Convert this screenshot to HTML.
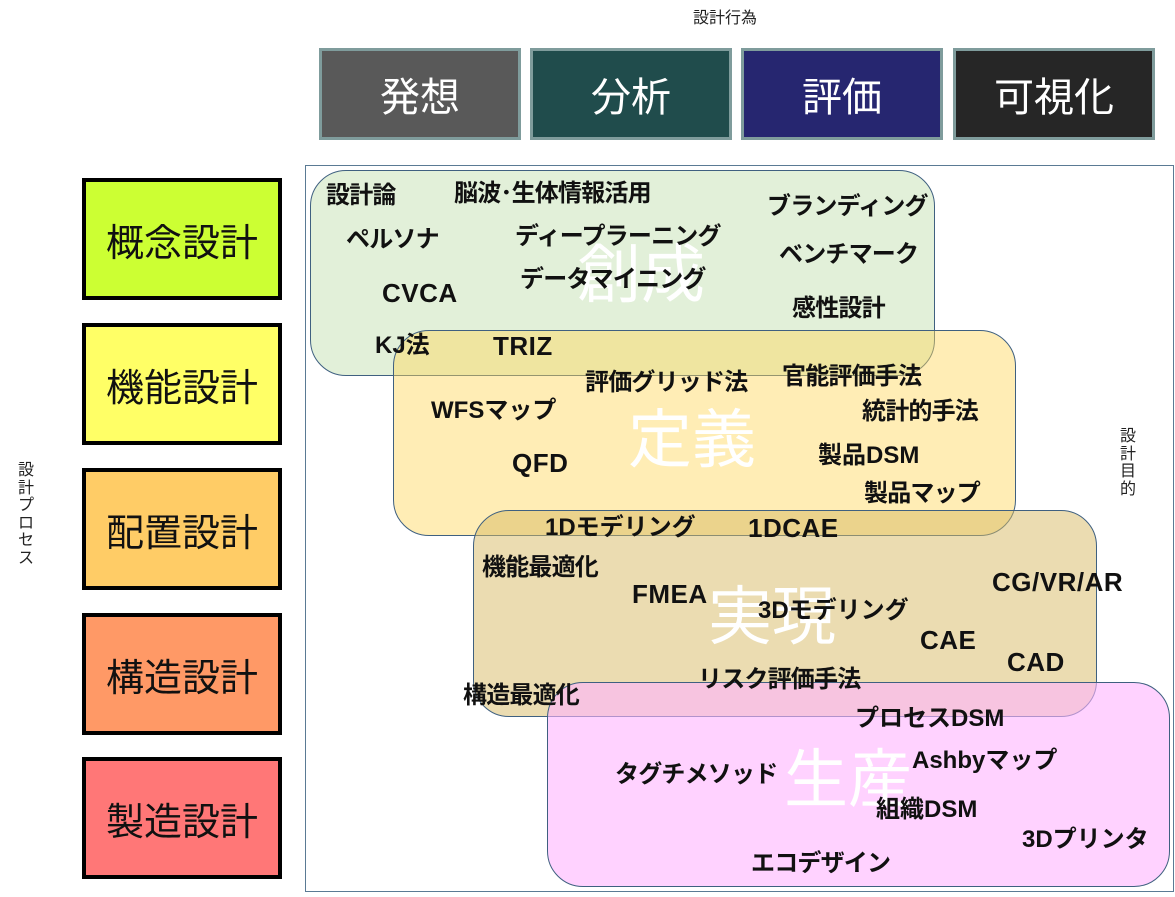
<!DOCTYPE html>
<html><head><meta charset="utf-8"><style>
body{margin:0;width:1175px;height:897px;background:#fff;position:relative;overflow:hidden;font-family:"Liberation Sans","Noto Sans CJK JP",sans-serif}
div{position:absolute;box-sizing:border-box}
.h{top:48px;height:92px;width:202px;border:3px solid #7f9c9c;color:#fff;font-size:40px;display:flex;align-items:center;justify-content:center}
.l{left:82px;width:200px;height:122px;border:4px solid #000;font-size:38px;display:flex;align-items:center;justify-content:center;color:#111}
.b{border:1.5px solid #3f6080;border-radius:36px}
.w{color:#fff;font-size:64px;white-space:nowrap;line-height:1}
.t{font-weight:bold;font-size:24px;white-space:nowrap;line-height:1;color:#111;letter-spacing:-0.8px}
.e{font-size:26px;letter-spacing:0.5px}
.m{font-size:24px;letter-spacing:0}
.s{font-size:16px;line-height:1.1;color:#222}
</style></head><body>
<div class="s" style="left:693px;top:10px">設計行為</div>
<div class="h" style="left:319px;background:#595959">発想</div>
<div class="h" style="left:530px;background:#204c4c">分析</div>
<div class="h" style="left:741px;background:#262670">評価</div>
<div class="h" style="left:953px;background:#262626">可視化</div>
<div class="s" style="left:16px;top:462px;width:20px;text-align:center">設<br>計<br>プ<br>ロ<br>セ<br>ス</div>
<div class="s" style="left:1118px;top:428px;width:20px;text-align:center">設<br>計<br>目<br>的</div>
<div class="l" style="top:178px;background:#ccff33">概念設計</div>
<div class="l" style="top:323px;background:#ffff66">機能設計</div>
<div class="l" style="top:468px;background:#ffcc66">配置設計</div>
<div class="l" style="top:613px;background:#ff9966">構造設計</div>
<div class="l" style="top:757px;background:#ff7777">製造設計</div>
<div style="left:305px;top:165px;width:869px;height:727px;border:1.5px solid #5a7a94"></div>
<div class="b" style="left:310px;top:170px;width:625px;height:206px;background:#e2f0d9"></div>
<div class="b" style="left:393px;top:330px;width:623px;height:206px;background:rgba(255,214,90,0.45)"></div>
<div class="b" style="left:473px;top:510px;width:624px;height:207px;background:rgba(215,185,100,0.5)"></div>
<div class="b" style="left:547px;top:682px;width:623px;height:205px;background:rgba(255,180,255,0.6)"></div>
<div class="w" style="left:577px;top:243px">創成</div>
<div class="w" style="left:628px;top:408px">定義</div>
<div class="w" style="left:708px;top:585px">実現</div>
<div class="w" style="left:784px;top:748px">生産</div>
<div class="t" style="left:326px;top:184px">設計論</div>
<div class="t" style="left:454px;top:182px">脳波･生体情報活用</div>
<div class="t" style="left:767px;top:195px">ブランディング</div>
<div class="t" style="left:346px;top:228px">ペルソナ</div>
<div class="t" style="left:515px;top:225px">ディープラーニング</div>
<div class="t" style="left:779px;top:243px">ベンチマーク</div>
<div class="t e" style="left:382px;top:280px">CVCA</div>
<div class="t" style="left:520px;top:268px">データマイニング</div>
<div class="t" style="left:792px;top:297px">感性設計</div>
<div class="t m" style="left:375px;top:334px">KJ法</div>
<div class="t e" style="left:493px;top:333px">TRIZ</div>
<div class="t" style="left:585px;top:371px">評価グリッド法</div>
<div class="t" style="left:782px;top:365px">官能評価手法</div>
<div class="t m" style="left:431px;top:399px">WFSマップ</div>
<div class="t" style="left:862px;top:400px">統計的手法</div>
<div class="t e" style="left:512px;top:450px">QFD</div>
<div class="t m" style="left:818px;top:444px">製品DSM</div>
<div class="t" style="left:864px;top:482px">製品マップ</div>
<div class="t m" style="left:545px;top:516px">1Dモデリング</div>
<div class="t e" style="left:748px;top:515px">1DCAE</div>
<div class="t" style="left:482px;top:556px">機能最適化</div>
<div class="t e" style="left:992px;top:569px">CG/VR/AR</div>
<div class="t e" style="left:632px;top:581px">FMEA</div>
<div class="t m" style="left:758px;top:599px">3Dモデリング</div>
<div class="t e" style="left:920px;top:627px">CAE</div>
<div class="t e" style="left:1007px;top:649px">CAD</div>
<div class="t" style="left:698px;top:668px">リスク評価手法</div>
<div class="t" style="left:463px;top:684px">構造最適化</div>
<div class="t m" style="left:855px;top:707px">プロセスDSM</div>
<div class="t m" style="left:912px;top:749px">Ashbyマップ</div>
<div class="t" style="left:615px;top:763px">タグチメソッド</div>
<div class="t m" style="left:876px;top:798px">組織DSM</div>
<div class="t m" style="left:1022px;top:828px">3Dプリンタ</div>
<div class="t" style="left:751px;top:852px">エコデザイン</div>
</body></html>
